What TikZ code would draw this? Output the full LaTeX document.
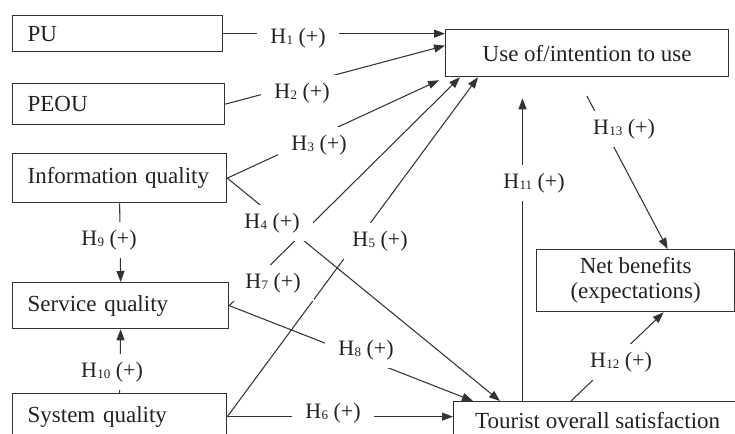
\documentclass[tikz,border=0pt]{standalone}
\usepackage{fontspec}
\setmainfont{Liberation Serif}
\usetikzlibrary{arrows.meta,calc}
\definecolor{ink}{HTML}{222222}
\definecolor{edge}{HTML}{333333}
\newcommand{\hyp}[1]{H\kern0.3pt{\fontsize{13}{13}\selectfont\raisebox{-1.5pt}{#1}}\ (+)}
\begin{document}
\begin{tikzpicture}[x=1pt,y=-1pt,
  box/.style={draw=edge, line width=1.3pt, rectangle, inner sep=0pt,
    font=\fontsize{23}{25}\selectfont, text=ink, anchor=north west},
  lbox/.style={box, align=left, inner xsep=15pt},
  lab/.style={fill=white, inner xsep=13pt, inner ysep=8pt,
    font=\fontsize{22}{24}\selectfont, text=ink},
  conn/.style={draw=edge, line width=1.05pt},
  arr/.style={conn, -{Triangle[length=11pt,width=8pt]}}]
\useasboundingbox (0,0) rectangle (735,433);
\clip (0,0) rectangle (735,433);
\fill[white] (0,0) rectangle (735,433);

% boxes
\node[lbox, text width=180pt, minimum height=36pt] (pu) at (12,15) {PU};
\node[lbox, text width=182pt, minimum height=41pt] (peou) at (12,83) {PEOU};
\node[lbox, text width=184pt, minimum height=49pt] (info) at (12,153) {Information quality};
\node[lbox, text width=186pt, minimum height=46pt] (serv) at (12,282) {Service quality};
\node[lbox, text width=184pt, minimum height=46pt] (sys) at (12,393) {System quality};
\node[box, minimum width=283pt, minimum height=47pt] (use) at (445,29) {Use of/intention to use};
\node[box, minimum width=198pt, minimum height=62pt, align=center] (net) at (536,249) {Net benefits\\(expectations)};
\node[box, minimum width=288pt, minimum height=37pt] (tour) at (453,401) {Tourist overall satisfaction};

% helper points
\coordinate (t11) at ([xshift=69.5pt]tour.north west);
\coordinate (t12) at ([xshift=118pt]tour.north west);
\coordinate (u13) at ([xshift=132pt]use.south west);

% connectors
\draw[arr] (pu.east) -- (pu.east -| use.west);
\draw[arr] (peou.east) -- ([yshift=7.5pt]use.west);
\draw[arr] (info.east) -- ([xshift=-6pt,yshift=-3pt]use.south west);
\draw[arr] (info.east) -- ([xshift=47pt]tour.north west);
\draw[arr] (serv.east) -- ([xshift=15pt]use.south west);
\draw[arr] (sys.east) -- ([xshift=33pt]use.south west);
\draw[arr] (sys.east) -- (sys.east -| tour.west);
\draw[arr] (serv.east) -- ([xshift=20pt]tour.north west);
\draw[arr] (info.south) -- (serv.north);
\draw[arr] (sys.north) -- (serv.south);
\draw[arr, shorten >=21pt] (t11) -- (t11 |- use.south);
\draw[arr, shorten <=21pt] (u13) -- ([xshift=32pt]net.north);
\draw[arr] (t12) -- ([xshift=28pt]net.south);

% labels
\node[lab] (h1) at (298,38) {\hyp{1}};
\node[lab] (h2) at (302,93) {\hyp{2}};
\node[lab] (h3) at (319,145) {\hyp{3}};
\node[lab] (h4) at (272,223) {\hyp{4}};
\node[lab] (h5) at (380,241) {\hyp{5}};
\node[lab] (h7) at (273,283) {\hyp{7}};
\node[lab] (h8) at (366,350) {\hyp{8}};
\node[lab] (h6) at (333,413) {\hyp{6}};
\node[lab] (h9) at (109,240) {\hyp{9}};
\node[lab] (h10) at (112,372) {\hyp{10}};
\node[lab] (h11) at (534,183) {\hyp{11}};
\node[lab] (h13) at (624,129) {\hyp{13}};
\node[lab] (h12) at (621,362) {\hyp{12}};
\end{tikzpicture}
\end{document}
